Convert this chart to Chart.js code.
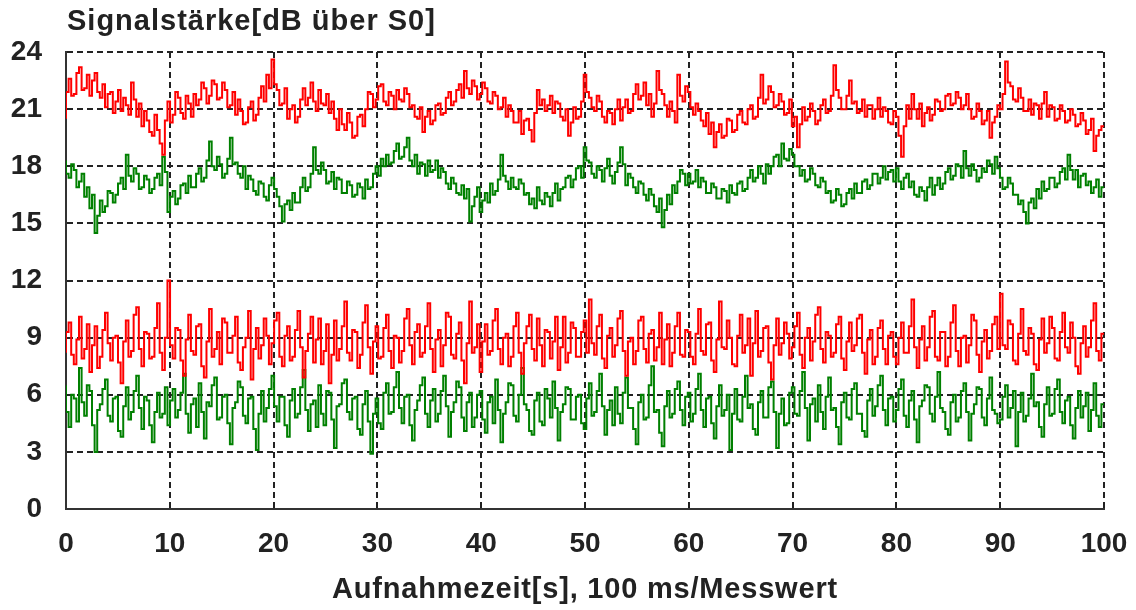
<!DOCTYPE html>
<html>
<head>
<meta charset="utf-8">
<script src="https://cdn.jsdelivr.net/npm/chart.js@4.4.1/dist/chart.umd.min.js"></script>
<style>
  html, body { margin: 0; padding: 0; background: #fff; }
  #wrap { width: 1136px; height: 610px; }
</style>
</head>
<body>
<div id="wrap"><canvas id="chart" width="1136" height="610"></canvas></div>
<script>
const yTitle = 'Signalstärke[dB über S0]';
const xTitle = 'Aufnahmezeit[s], 100 ms/Messwert';
const xTicks = [0, 10, 20, 30, 40, 50, 60, 70, 80, 90, 100];
const yTicks = [0, 3, 6, 9, 12, 15, 18, 21, 24];

const redHigh = [
  20.5,21.9, 22.6,21.7, 21.8,22.9, 23.2,22.0, 22.1,22.8, 21.7,22.5, 22.9,21.9, 21.6,22.3, 21.1,21.8, 21.9,20.8, 21.4,22.0, 20.9,21.6, 21.2,20.7, 22.4,21.5, 20.6,21.3, 20.1,20.9, 20.4,19.8, 19.6,20.7, 19.9,19.2, 18.6,20.4,
  21.4,20.3, 20.7,21.9, 21.6,20.8, 20.5,21.7, 21.3,20.6, 21.8,21.2, 21.5,22.4, 22.1,21.3, 21.7,22.5, 22.3,21.5, 21.6,22.4, 22.0,21.1, 21.2,21.9, 20.7,21.5, 20.9,20.2, 20.3,21.1, 21.4,20.4, 20.7,21.6, 22.2,21.4, 22.8,22.1,
  23.6,22.3, 22.0,21.2, 21.3,22.1, 20.5,21.0, 21.2,20.3, 20.6,21.5, 22.1,21.2, 21.6,22.4, 21.4,20.9, 22.0,21.3, 21.2,21.8, 20.8,21.4, 20.5,19.9, 21.0,20.2, 19.9,20.8, 20.3,19.5, 19.6,20.6, 20.7,20.1, 21.0,21.9, 21.8,21.1,
  21.5,22.2, 22.3,21.4, 21.2,21.9, 21.7,21.0, 22.0,21.5, 21.4,22.1, 21.8,21.1, 21.2,20.6, 20.5,21.1, 19.8,20.6, 20.9,20.2, 20.4,21.2, 21.3,20.7, 20.8,21.6, 21.9,21.2, 21.4,22.0, 22.3,21.6, 23.0,22.1, 21.8,22.5, 22.2,21.5,
  21.8,22.4, 22.1,21.4, 21.3,21.9, 21.7,21.0, 21.1,21.6, 20.6,21.2, 20.9,20.3, 20.3,20.9, 19.7,20.4, 20.5,19.9, 19.3,20.8, 22.0,21.2, 21.5,20.9, 21.2,21.7, 20.8,21.4, 21.3,20.6, 20.4,21.0, 19.6,20.3, 21.1,20.5, 20.6,21.4,
  22.8,21.9, 21.6,21.1, 20.9,21.7, 21.4,20.6, 20.3,20.9, 20.8,20.2, 21.0,21.5, 20.4,21.1, 21.5,20.8, 20.9,21.8, 22.3,21.5, 21.7,22.4, 21.2,21.8, 20.6,21.3, 23.0,22.0, 21.8,21.2, 20.6,21.4, 20.9,20.3, 22.8,21.7, 21.4,22.2,
  21.9,21.1, 20.7,21.3, 20.9,20.4, 20.1,20.8, 19.7,20.3, 19.0,19.8, 20.2,19.5, 19.6,20.5, 20.4,19.8, 19.9,20.7, 20.9,20.3, 20.2,21.0, 21.2,20.5, 20.6,21.6, 22.8,21.3, 21.5,22.2, 21.9,21.1, 21.2,21.8, 21.4,20.7, 20.8,21.5,
  20.1,20.6, 19.0,20.2, 21.1,20.4, 20.6,21.3, 20.9,20.2, 20.4,21.2, 21.5,20.8, 20.9,21.7, 23.3,22.0, 21.6,21.0, 21.0,21.7, 22.5,21.3, 21.4,20.8, 20.9,21.5, 20.6,21.2, 21.2,20.5, 21.0,21.6, 20.6,21.1, 20.9,20.3, 20.2,20.9,
  20.6,19.6, 18.5,20.1, 21.2,20.5, 21.8,21.0, 20.5,21.3, 20.1,20.8, 21.1,20.4, 20.7,21.5, 21.4,20.9, 21.0,21.7, 21.8,21.2, 21.3,21.9, 21.6,21.0, 21.2,21.8, 21.0,20.5, 20.6,21.3, 20.9,20.2, 20.4,20.9, 19.5,20.3, 20.6,21.2,
  21.0,21.8, 23.5,22.4, 22.2,21.5, 21.4,22.1, 21.6,20.9, 20.9,21.5, 20.7,21.3, 21.2,20.5, 21.3,21.9, 20.6,21.2, 21.1,20.4, 20.5,21.2, 20.9,20.3, 20.4,21.0, 20.7,20.1, 20.2,20.8, 20.4,19.7, 19.9,20.5, 18.8,19.6, 19.9,20.1
];
const greenHigh = [
  18.3,17.6, 17.4,18.1, 17.8,16.9, 17.2,17.6, 16.4,16.9, 15.8,16.5, 14.5,15.4, 16.2,15.6, 15.9,16.7, 16.6,16.1, 16.5,17.1, 17.4,16.8, 18.6,17.5, 17.2,17.9, 17.6,16.8, 16.9,17.5, 17.3,16.6, 16.8,17.4, 17.6,17.0, 18.5,17.7,
  15.6,16.4, 16.7,16.0, 16.3,17.0, 17.1,16.6, 17.5,16.9, 16.9,17.6, 17.9,17.2, 17.4,18.3, 19.3,18.0, 17.8,18.5, 18.1,17.4, 17.6,18.4, 19.5,18.1, 18.2,17.6, 17.4,18.0, 16.8,17.5, 17.3,16.7, 16.5,17.2, 17.1,16.4, 16.2,17.0,
  17.4,16.8, 16.4,15.9, 15.1,16.0, 16.2,15.7, 16.6,16.1, 16.1,16.9, 17.4,16.7, 16.9,17.6, 19.0,17.8, 17.6,18.2, 17.8,17.1, 17.2,17.7, 16.8,17.4, 17.3,16.6, 16.6,17.2, 17.0,16.4, 16.5,17.1, 16.9,16.3, 17.3,16.8, 16.9,17.6,
  18.0,17.5, 18.4,18.0, 18.6,18.1, 18.2,18.8, 19.2,18.4, 18.5,19.0, 19.5,18.3, 18.0,18.6, 17.6,18.2, 18.1,17.5, 18.3,17.7, 17.8,18.3, 17.4,17.9, 17.7,17.1, 16.8,17.4, 17.1,16.6, 16.5,17.0, 16.3,16.8, 15.1,15.9, 16.4,16.9,
  15.6,16.2, 16.6,16.1, 17.1,16.5, 16.7,17.3, 18.6,17.5, 17.2,16.8, 17.4,16.9, 16.8,17.3, 17.1,16.5, 16.6,16.0, 16.3,15.8, 16.9,16.2, 16.0,16.6, 16.4,15.9, 16.6,17.1, 16.2,16.8, 16.9,17.4, 17.5,16.9, 17.3,17.9, 18.0,17.4,
  19.0,18.3, 18.2,17.6, 17.4,18.0, 17.8,17.2, 17.9,18.4, 17.5,17.1, 17.7,18.2, 19.0,18.1, 17.0,17.6, 17.4,16.9, 16.6,17.2, 17.1,16.5, 16.2,16.8, 16.5,15.9, 15.6,16.3, 14.8,15.7, 16.5,16.0, 17.0,16.6, 17.2,17.8, 17.6,17.0,
  17.6,17.1, 17.2,17.8, 16.9,17.4, 17.2,16.6, 16.6,17.1, 16.9,16.3, 16.3,16.8, 16.7,16.1, 17.0,16.6, 16.5,17.1, 17.2,16.7, 16.8,17.4, 17.8,17.2, 17.4,18.0, 17.6,17.1, 18.1,17.6, 18.0,18.5, 18.6,18.0, 19.2,18.4, 18.3,18.9,
  18.6,18.0, 18.0,17.5, 17.8,17.2, 17.3,17.9, 17.6,17.0, 16.9,17.4, 17.2,16.6, 16.7,16.1, 16.2,16.8, 16.5,15.9, 16.0,16.6, 16.8,16.3, 17.1,16.6, 16.6,17.2, 17.3,16.8, 17.0,17.6, 17.6,17.1, 17.4,18.0, 17.3,17.7, 17.8,17.2,
  17.9,17.2, 16.8,17.4, 17.6,16.9, 17.2,16.5, 16.4,16.9, 16.7,16.2, 16.9,17.4, 16.5,17.0, 17.4,16.8, 17.1,17.7, 17.9,17.3, 17.5,18.1, 18.0,17.4, 18.8,17.9, 17.5,18.1, 17.8,17.2, 17.4,17.9, 17.7,18.3, 18.1,17.6, 18.5,17.9,
  17.4,16.8, 16.9,17.4, 17.1,16.5, 16.5,16.0, 16.2,15.6, 15.0,16.1, 16.3,15.8, 16.8,16.3, 17.2,16.7, 16.8,17.4, 17.4,16.9, 17.1,17.7, 17.9,17.3, 18.6,17.8, 17.3,17.8, 16.9,17.5, 17.6,17.0, 17.2,16.6, 16.9,17.3, 16.4,16.9
];
const redLow = [
  8.2,9.3, 9.8,8.1, 7.6,8.9, 10.1,7.9, 8.4,9.7, 7.2,8.6, 9.6,7.4, 8.0,9.4, 10.3,8.7, 7.8,9.0, 9.1,7.7, 6.6,8.8, 9.9,8.0, 8.3,10.2, 10.6,8.4, 7.5,9.3, 9.2,7.9, 8.0,9.5, 10.8,8.2, 7.3,9.0,
  12.0,8.6, 7.9,9.5, 9.4,7.8, 7.0,8.9, 10.2,8.3, 8.1,9.6, 9.7,7.5, 6.9,8.8, 10.5,8.0, 8.4,9.3, 7.6,10.0, 9.8,8.2, 8.2,9.1, 10.1,7.7, 7.3,8.5, 9.0,10.4, 6.8,8.4, 9.5,7.9, 8.6,10.0, 9.1,7.6,
  8.7,9.9, 10.3,8.0, 7.5,9.1, 9.6,7.8, 8.0,9.4, 10.4,8.5, 6.9,8.3, 9.2,10.1, 7.7,8.9, 10.0,7.6, 8.3,9.7, 6.6,8.1, 9.9,7.8, 8.4,9.6, 10.9,8.2, 7.8,9.4, 9.3,7.4, 8.1,9.8, 10.7,8.5, 7.1,8.8,
  9.6,7.9, 8.0,9.5, 10.2,8.3, 7.4,9.1, 9.0,7.7, 8.3,10.0, 10.5,8.6, 7.6,9.3, 9.7,8.0, 8.2,9.6, 10.8,8.4, 7.2,8.9, 9.4,7.5, 8.6,10.3, 10.1,8.1, 7.9,9.2, 9.8,7.8, 6.6,8.7, 10.9,8.2, 8.5,9.7,
  7.2,8.8, 9.7,8.1, 8.3,9.9, 10.5,8.4, 7.6,9.0, 9.2,7.5, 8.0,9.6, 10.3,8.2, 7.1,8.7, 9.6,10.2, 8.4,7.8, 10.0,8.6, 7.5,9.4, 9.3,7.9, 8.8,10.1, 7.3,8.5, 10.1,7.7, 8.2,9.8, 9.5,8.0, 8.0,9.3,
  9.9,8.2, 11.0,8.7, 8.1,9.6, 10.2,7.9, 7.4,9.1, 9.5,8.0, 8.6,10.0, 10.4,8.3, 7.0,8.8, 9.0,7.6, 8.3,9.9, 10.1,8.4, 7.7,9.2, 9.4,7.8, 8.5,10.3, 7.6,8.9, 9.7,7.5, 8.2,9.6, 10.3,8.1, 8.0,9.4,
  9.3,8.0, 7.6,9.2, 10.5,8.3, 8.1,9.7, 9.8,7.8, 7.2,8.9, 10.9,8.5, 8.4,9.9, 9.0,7.6, 7.5,9.1, 10.2,8.2, 8.6,10.0, 7.0,8.7, 10.4,8.0, 8.3,9.5, 9.6,7.7, 6.8,8.6, 10.0,8.1, 8.7,9.8, 9.2,7.9,
  8.5,9.6, 10.3,8.1, 7.4,9.0, 9.5,7.8, 8.8,10.2, 10.6,8.4, 7.7,9.3, 9.1,8.0, 8.2,9.7, 10.1,7.9, 7.3,8.8, 9.8,8.3, 8.6,10.0, 10.2,8.2, 7.1,8.9, 9.4,7.6, 8.0,9.5, 9.9,8.4, 7.6,9.1, 9.3,8.0,
  7.6,9.0, 9.8,8.2, 8.2,9.6, 11.0,8.5, 7.4,8.9, 9.6,7.8, 8.5,10.1, 10.4,8.0, 7.8,9.3, 9.3,7.5, 8.0,9.8, 10.7,8.3, 7.5,9.0, 9.1,7.7, 8.6,10.2, 9.9,8.1, 7.2,8.8, 9.4,7.9, 8.3,9.7, 10.1,8.4,
  11.3,8.6, 8.4,9.9, 9.7,7.8, 7.6,9.2, 10.5,8.3, 8.1,9.5, 9.2,7.6, 7.3,8.9, 10.0,8.2, 8.7,10.1, 9.5,7.9, 7.8,9.3, 10.3,8.5, 8.2,9.8, 9.0,7.5, 7.1,8.7, 9.6,8.0, 8.5,9.9, 10.8,8.3, 7.8,9.2
];
const greenLow = [
  6.5,5.1, 4.3,6.0, 5.8,4.6, 7.4,5.6, 4.9,6.5, 6.2,4.4, 3.0,5.2, 5.5,6.3, 6.8,4.9, 4.6,5.8, 5.9,4.1, 3.8,5.4, 6.4,4.7, 5.1,6.2, 7.0,5.3, 4.2,5.9, 5.7,4.4, 3.5,5.1, 6.1,4.8, 5.0,6.4,
  4.4,5.7, 6.3,4.8, 5.2,6.1, 7.1,5.0, 4.0,5.5, 5.8,4.3, 6.6,5.1, 3.7,5.6, 5.4,6.5, 6.9,4.7, 4.8,5.9, 6.0,4.5, 3.4,5.3, 5.6,6.7, 6.4,4.9, 4.5,5.8, 5.9,4.2, 3.1,5.0, 6.2,4.6, 5.3,6.3,
  7.0,5.4, 4.6,5.9, 5.9,4.4, 3.8,5.7, 6.3,4.8, 5.0,6.4, 7.3,5.2, 4.1,5.5, 5.7,4.3, 6.5,5.0, 4.4,6.2, 6.1,4.7, 3.2,5.4, 5.5,6.6, 6.8,5.1, 4.7,5.8, 5.9,4.2, 3.9,5.5, 6.2,4.6, 2.9,5.0,
  5.8,4.5, 4.2,6.1, 6.6,5.0, 5.1,6.4, 7.2,5.3, 4.5,5.9, 6.0,4.4, 3.6,5.2, 5.7,6.5, 6.9,5.0, 4.3,5.7, 6.3,4.6, 5.0,6.2, 7.0,5.4, 3.8,5.1, 5.6,6.7, 6.4,4.8, 4.1,5.6, 6.1,4.3, 4.8,6.0,
  6.2,4.7, 4.0,5.6, 5.9,4.5, 6.8,5.2, 3.5,5.0, 5.6,6.6, 6.5,4.9, 4.6,6.0, 7.4,5.5, 5.2,4.1, 3.9,5.7, 6.1,4.6, 4.4,6.3, 5.8,4.8, 6.7,5.3, 3.6,5.1, 5.5,6.4, 6.3,4.7, 4.7,5.9, 6.0,4.5,
  4.2,5.8, 6.6,4.9, 5.1,6.2, 7.1,5.4, 3.9,5.2, 5.7,4.4, 6.4,5.0, 4.5,6.1, 6.9,5.3, 5.3,4.2, 3.4,5.6, 6.0,4.7, 4.8,6.5, 7.5,5.1, 5.2,4.0, 3.3,5.4, 6.2,4.8, 5.0,6.3, 6.7,5.2, 4.4,5.9,
  6.1,4.6, 5.0,6.3, 7.1,5.2, 4.3,5.8, 5.9,4.5, 3.7,5.4, 6.5,4.9, 5.2,6.0, 3.1,5.0, 6.3,4.7, 4.6,5.9, 7.0,5.3, 5.5,4.2, 3.9,5.6, 6.2,4.8, 4.8,6.4, 6.7,5.1, 3.2,5.0, 5.8,4.4, 4.5,6.1,
  6.4,5.0, 4.9,6.2, 7.2,5.3, 3.6,5.5, 5.8,4.6, 6.5,5.1, 4.2,5.9, 6.9,5.2, 5.3,4.3, 3.4,5.6, 6.1,4.8, 4.7,6.3, 6.6,5.0, 5.0,4.1, 3.8,5.7, 6.3,4.9, 5.4,6.5, 7.0,5.2, 4.4,5.8, 5.9,4.6,
  5.2,6.3, 6.8,4.9, 4.3,5.7, 6.2,4.7, 3.5,5.4, 5.7,6.5, 6.4,5.0, 4.6,5.9, 7.2,5.3, 5.1,4.2, 3.9,5.6, 6.0,4.6, 4.8,6.2, 6.6,5.1, 3.6,5.0, 5.5,6.4, 6.3,4.8, 4.4,5.8, 6.9,5.2, 5.0,4.5,
  4.7,5.9, 6.5,4.8, 5.3,6.2, 3.3,5.1, 6.1,4.6, 4.9,5.8, 7.1,5.4, 5.6,4.3, 3.8,5.5, 6.4,4.9, 5.0,6.3, 6.8,5.1, 4.5,5.7, 5.9,4.4, 3.7,5.3, 6.2,4.8, 5.4,6.1, 4.1,5.2, 6.6,4.9, 4.3,5.5
];

const FONT = '"Liberation Sans", Arial, sans-serif';
const TEXT = '#222';

function toPoints(vals) {
  const step = 100 / (vals.length - 1);
  return vals.map((v, i) => ({ x: i * step, y: v }));
}

function line(vals, color) {
  return {
    data: toPoints(vals),
    borderColor: color,
    borderWidth: 2,
    pointRadius: 0,
    stepped: 'after',
    fill: false
  };
}

const titles = {
  id: 'titles',
  afterDraw(chart) {
    const ctx = chart.ctx;
    const a = chart.chartArea;
    ctx.save();
    ctx.fillStyle = TEXT;
    ctx.font = 'bold 29px ' + FONT;
    ctx.letterSpacing = '1px';
    ctx.textBaseline = 'middle';
    ctx.textAlign = 'left';
    ctx.fillText(yTitle, a.left + 1, 22);
    ctx.letterSpacing = '0.8px';
    ctx.textAlign = 'center';
    ctx.fillText(xTitle, (a.left + a.right) / 2, 590);
    ctx.restore();
  }
};

const tickFont = { family: FONT, size: 28, weight: 'bold' };

new Chart(document.getElementById('chart'), {
  type: 'line',
  data: {
    datasets: [
      line(redHigh, '#ff0000'),
      line(redLow, '#ff0000'),
      line(greenHigh, '#008000'),
      line(greenLow, '#008000')
    ]
  },
  options: {
    responsive: false,
    animation: false,
    layout: { padding: { left: 0, top: 52, right: 32, bottom: 0 } },
    plugins: { legend: { display: false }, tooltip: { enabled: false }, title: { display: false } },
    scales: {
      x: {
        type: 'linear',
        min: 0,
        max: 100,
        afterBuildTicks: s => { s.ticks = xTicks.map(v => ({ value: v })); },
        afterFit: s => { s.height = 101; s.paddingLeft = 0; s.paddingRight = 0; },
        grid: { color: '#222', lineWidth: 2, drawTicks: false },
        border: { display: true, color: '#333', width: 2, dash: [6, 4] },
        ticks: { color: TEXT, font: tickFont, padding: 18, maxRotation: 0 }
      },
      y: {
        min: 0,
        max: 24,
        afterBuildTicks: s => { s.ticks = yTicks.map(v => ({ value: v })); },
        afterFit: s => { s.width = 66; },
        grid: { color: '#222', lineWidth: 2, drawTicks: false },
        border: { display: true, color: '#333', width: 2, dash: [6, 4] },
        ticks: { color: TEXT, font: tickFont, padding: 24 }
      }
    }
  },
  plugins: [titles]
});
</script>
</body>
</html>
